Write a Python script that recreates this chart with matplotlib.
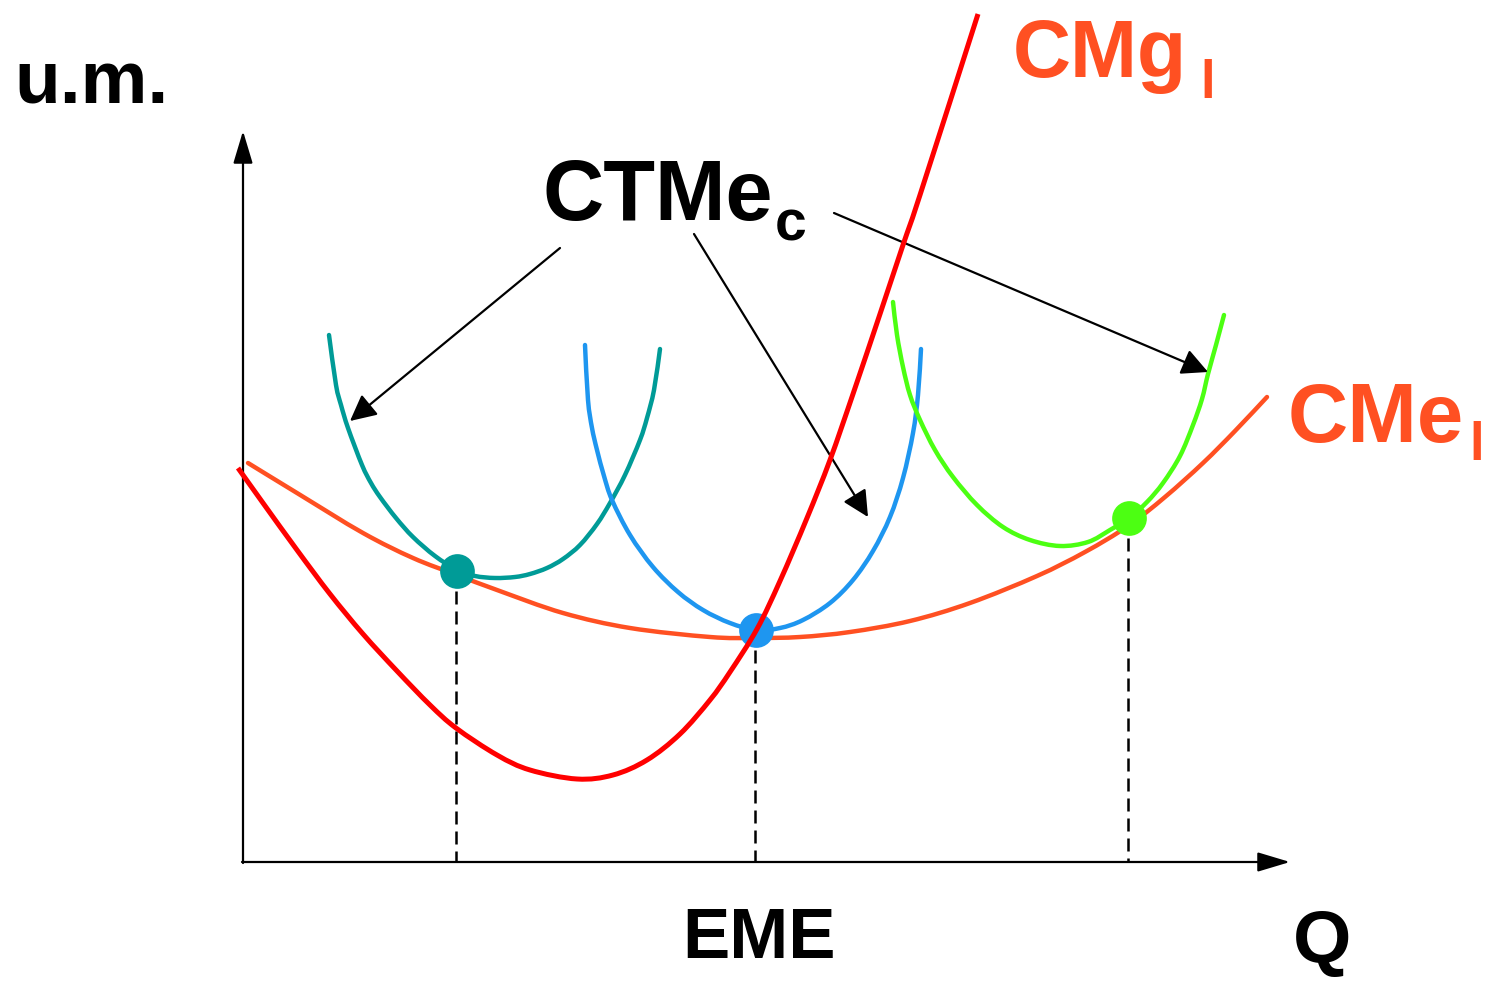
import matplotlib
matplotlib.use("Agg")
import matplotlib.pyplot as plt
from matplotlib.path import Path
from matplotlib.patches import PathPatch

# ---- data (pixel space of the 1490x988 picture) ----
cmg_x = [238, 263, 297, 330, 363, 397, 430, 456, 497, 530, 577, 613, 647, 680,
         710, 730, 757, 780, 807, 830, 853, 880, 903, 920, 978]
cmg_y = [468, 503, 550, 594, 634, 671, 705, 728, 755, 770, 779, 775, 760, 734,
         700, 672, 629, 581, 518, 460, 394, 314, 245, 195, 14]

cme_x = [248, 297, 363, 413, 457, 497, 563, 630, 710, 755, 800, 850, 910, 970,
         1037, 1085, 1128, 1165, 1203, 1235, 1267]
cme_y = [463, 493, 533, 558, 575, 590, 613, 628, 637, 638, 637, 632, 621, 603,
         576, 552, 526, 497, 463, 431, 397]

teal_x = [329, 336, 341, 348, 362, 371, 380, 396, 413, 435, 457, 475, 495, 515,
          530, 547, 563, 580, 597, 610, 625, 640, 647, 654, 660]
teal_y = [335, 385, 405, 428, 465, 483, 497, 518, 537, 556, 570, 576, 578, 577,
          574, 568, 559, 545, 524, 503, 475, 440, 418, 390, 349]

blue_x = [585, 588, 592, 597, 604, 612, 630, 653, 678, 703, 730, 756, 780, 803, 830,
          853, 873, 890, 903, 913, 918, 921]
blue_y = [345, 400, 428, 450, 476, 500, 535, 567, 592, 610, 623, 630, 628, 620, 603,
          580, 551, 517, 478, 433, 395, 349]

green_x = [893, 897, 903, 910, 920, 935, 953, 977, 1003, 1030, 1060, 1088, 1110, 1129,
           1147, 1163, 1180, 1193, 1202, 1208, 1216, 1224]
green_y = [302, 335, 367, 395, 420, 450, 477, 505, 527, 540, 546, 542, 530, 518,
           502, 483, 456, 425, 399, 374, 345, 315]

# tangency points (Q, u.m.) of each short-run curve with the long-run average cost
tangent_q = [457, 756, 1129]
tangent_c = [571, 630, 518]

# ---- styles ----
C_RED = "#FF0000"
C_ORANGE = "#FF5022"
C_TEAL = "#009B97"
C_BLUE = "#1E96F0"
C_GREEN = "#4CFF12"
dot_colors = [C_TEAL, C_BLUE, C_GREEN]
FONT = ["Liberation Sans", "DejaVu Sans"]


def smooth_path(xs, ys):
    """Catmull-Rom curve through the read points, drawn as cubic Bezier segments."""
    pts = list(zip(xs, ys))
    n = len(pts)
    verts = [pts[0]]
    codes = [Path.MOVETO]
    for i in range(n - 1):
        p0 = pts[max(i - 1, 0)]
        p1 = pts[i]
        p2 = pts[i + 1]
        p3 = pts[min(i + 2, n - 1)]
        c1 = (p1[0] + (p2[0] - p0[0]) / 6.0, p1[1] + (p2[1] - p0[1]) / 6.0)
        c2 = (p2[0] - (p3[0] - p1[0]) / 6.0, p2[1] - (p3[1] - p1[1]) / 6.0)
        verts += [c1, c2, p2]
        codes += [Path.CURVE4] * 3
    return Path(verts, codes)


def draw_curve(ax, xs, ys, color, lw, z, cap="round"):
    patch = PathPatch(smooth_path(xs, ys), fill=False, edgecolor=color, lw=lw,
                      capstyle=cap, joinstyle="round", zorder=z)
    ax.add_patch(patch)


fig = plt.figure(figsize=(14.9, 9.88), dpi=100)
ax = fig.add_axes([0, 0, 1, 1])
ax.set_xlim(0, 1490)
ax.set_ylim(988, 0)
ax.axis("off")

# axes
axis_arrow = dict(arrowstyle="-|>,head_length=0.5,head_width=0.15",
                  lw=1.6, color="black", mutation_scale=40, shrinkA=0, shrinkB=0)
ax.annotate("", xy=(243, 131), xytext=(243, 863), arrowprops=axis_arrow, zorder=1)
ax.annotate("", xy=(1290, 862), xytext=(242, 862), arrowprops=axis_arrow, zorder=1)

# dashed drop lines
for q, c in zip(tangent_q, tangent_c):
    ax.plot([q - 1, q - 1], [c, 862], color="black", lw=1.8,
            dashes=(5.2, 2.8), zorder=1)

# curves
lw = 3.2
draw_curve(ax, cme_x, cme_y, C_ORANGE, lw, 2)
draw_curve(ax, teal_x, teal_y, C_TEAL, lw, 3)
draw_curve(ax, blue_x, blue_y, C_BLUE, lw, 3)
draw_curve(ax, green_x, green_y, C_GREEN, lw, 3.2)

# dots
for q, c, col in zip(tangent_q, tangent_c, dot_colors):
    ax.plot([q], [c], "o", ms=25, color=col, mec="none", zorder=4)

draw_curve(ax, cmg_x, cmg_y, C_RED, 3.6, 5, cap="butt")

# pointer arrows
for tail, head in [((560, 248), (350, 421)),
                   ((694, 234), (868, 517)),
                   ((834, 213), (1208, 372))]:
    ax.annotate("", xy=head, xytext=tail,
                arrowprops=dict(arrowstyle="-|>,head_length=0.4,head_width=0.2",
                                lw=1.6, color="black", mutation_scale=40,
                                shrinkA=0, shrinkB=0), zorder=3.5)

# texts
kw = dict(fontweight="bold", family=FONT, ha="left", va="baseline")
ax.text(14, 104, "u.m.", fontsize=54, color="black", **kw)
ax.text(543, 220, "CTMe", fontsize=61, color="black", **kw)
ax.text(775, 240, "c", fontsize=41, color="black", **kw)
ax.text(1013, 77, "CMg", fontsize=58, color=C_ORANGE, **kw)
ax.text(1200, 98, "l", fontsize=38, color=C_ORANGE, **kw)
ax.text(1288, 442, "CMe", fontsize=60, color=C_ORANGE, **kw)
ax.text(1469, 460, "l", fontsize=38, color=C_ORANGE, **kw)
ax.text(682, 958, "EME", fontsize=51, color="black", **kw)
ax.text(1293, 962, "Q", fontsize=54, color="black", **kw)

fig.savefig("out.png", dpi=100)
